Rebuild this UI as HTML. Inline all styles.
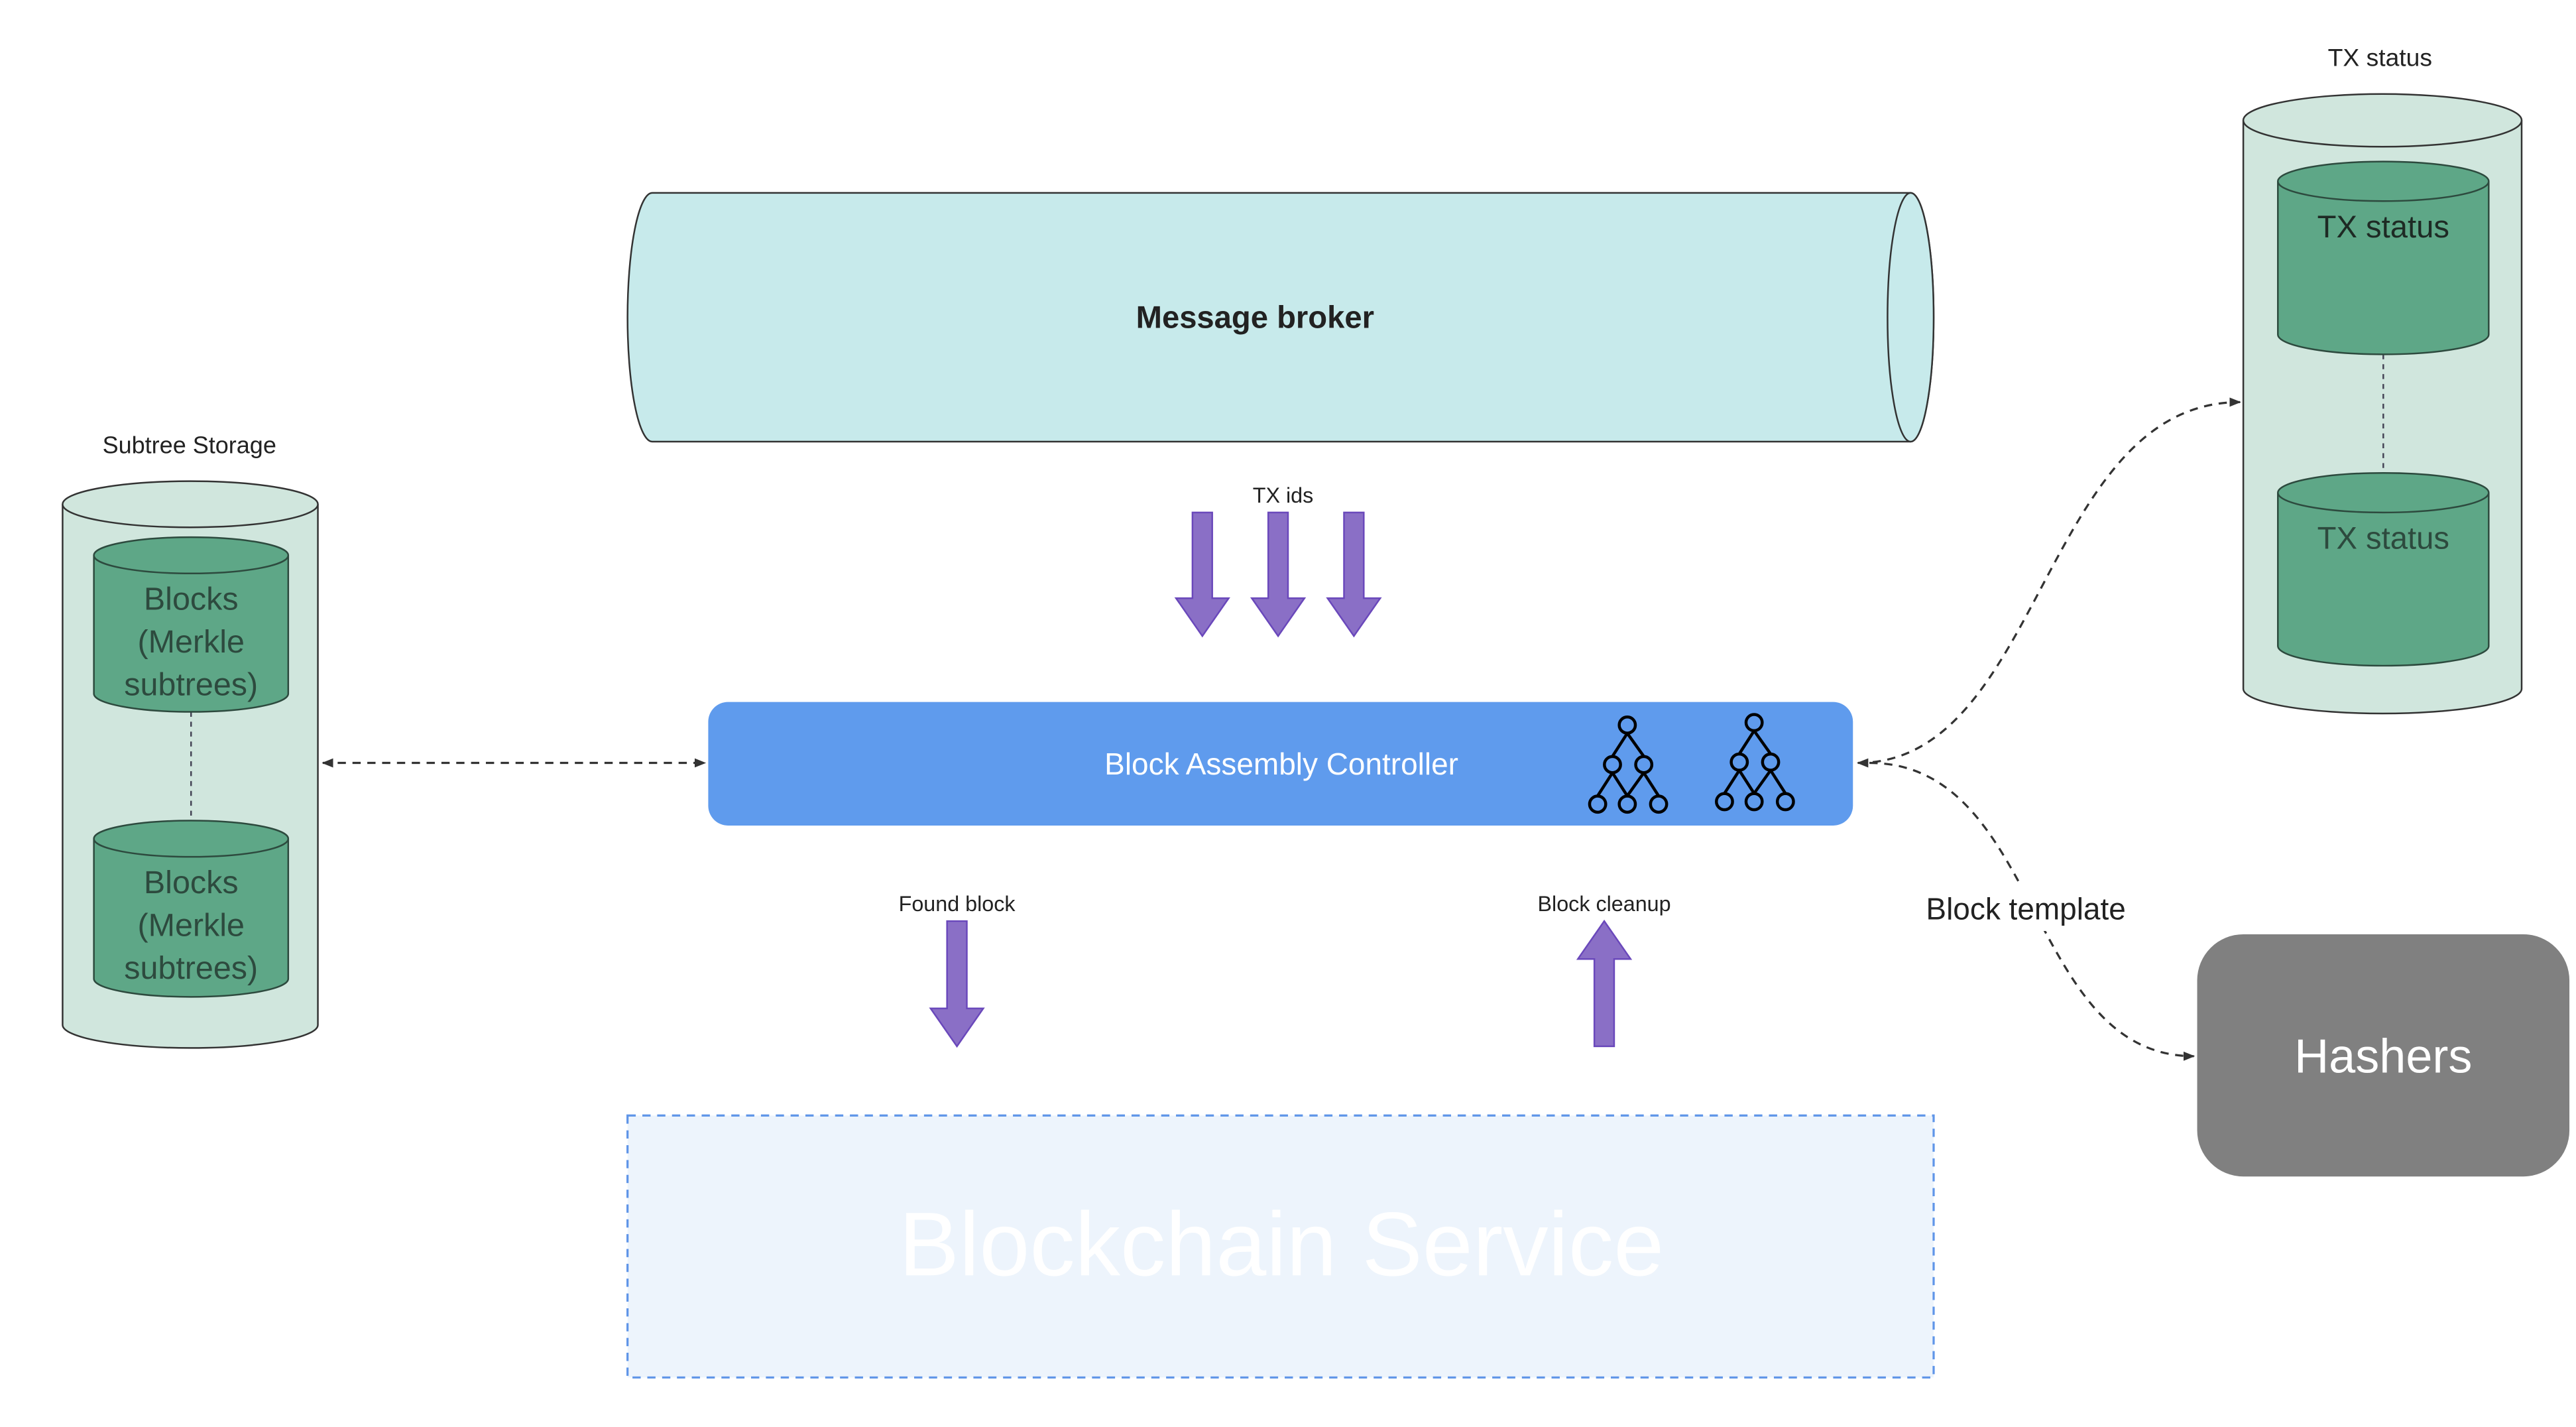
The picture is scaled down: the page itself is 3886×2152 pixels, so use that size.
<!DOCTYPE html>
<html><head><meta charset="utf-8"><style>html,body{margin:0;padding:0;background:#fff;}svg{display:block}</style></head>
<body>
<svg width="3886" height="2152" viewBox="0 0 1564 866" xmlns="http://www.w3.org/2000/svg" font-family="'Liberation Sans', sans-serif">
<defs>
<marker id="ah" viewBox="0 0 10 10" refX="9" refY="5" markerWidth="7" markerHeight="7" orient="auto-start-reverse" markerUnits="userSpaceOnUse"><path d="M0,1 L10,5 L0,9 Z" fill="#333"/></marker>
</defs>
<rect width="1564" height="866" fill="#fff"/>

<path d="M396,117 L1160,117 A14,75.5 0 0 1 1160,268 L396,268 A15,75.5 0 0 1 396,117 Z" fill="#c7eaeb" stroke="#333" stroke-width="1"/>
<ellipse cx="1160" cy="192.5" rx="14" ry="75.5" fill="#c7eaeb" stroke="#333" stroke-width="1"/>
<text x="762" y="199" font-size="19" font-weight="bold" text-anchor="middle" fill="#222">Message broker</text>

<text x="779" y="305" font-size="13" text-anchor="middle" fill="#222">TX ids</text>
<g fill="#8a6fc6" stroke="#6a48bb" stroke-width="1">
<path d="M724,311 h12 v52 h10 l-16,23 l-16,-23 h10 Z"/>
<path d="M770,311 h12 v52 h10 l-16,23 l-16,-23 h10 Z"/>
<path d="M816,311 h12 v52 h10 l-16,23 l-16,-23 h10 Z"/>
</g>

<rect x="430" y="426" width="695" height="75" rx="12" fill="#5f9bed"/>
<text x="778" y="470" font-size="18.5" text-anchor="middle" fill="#fff">Block Assembly Controller</text>
<g fill="none" stroke="#000" stroke-width="1.8">
<g id="tree">
<line x1="988" y1="445" x2="979" y2="459"/><line x1="988" y1="445" x2="998" y2="459"/>
<line x1="979" y1="469" x2="970" y2="483"/><line x1="979" y1="469" x2="988" y2="483"/>
<line x1="998" y1="469" x2="988" y2="483"/><line x1="998" y1="469" x2="1007" y2="483"/>
<circle cx="988" cy="440" r="4.9"/><circle cx="979" cy="464" r="4.9"/><circle cx="998" cy="464" r="4.9"/>
<circle cx="970" cy="488" r="4.9"/><circle cx="988" cy="488" r="4.9"/><circle cx="1007" cy="488" r="4.9"/>
</g>
<use href="#tree" transform="translate(77,-1.5)"/>
</g>

<text x="115" y="275" font-size="14.5" text-anchor="middle" fill="#222">Subtree Storage</text>
<path d="M38,306 L38,622 A77.5,14 0 0 0 193,622 L193,306" fill="#d0e6dd" stroke="#333" stroke-width="1"/>
<ellipse cx="115.5" cy="306" rx="77.5" ry="14" fill="#d0e6dd" stroke="#333" stroke-width="1"/>
<line x1="116" y1="432" x2="116" y2="499" stroke="#445" stroke-width="1" stroke-dasharray="3,3"/>
<g fill="#5ea787" stroke="#2d4a3e" stroke-width="1">
<path d="M57,337 L57,421 A59,11 0 0 0 175,421 L175,337"/><ellipse cx="116" cy="337" rx="59" ry="11"/>
<path d="M57,509 L57,594 A59,11 0 0 0 175,594 L175,509"/><ellipse cx="116" cy="509" rx="59" ry="11"/>
</g>
<g font-size="19.5" text-anchor="middle" fill="#2d4a3e">
<text x="116" y="370">Blocks</text><text x="116" y="396">(Merkle</text><text x="116" y="422">subtrees)</text>
<text x="116" y="542">Blocks</text><text x="116" y="568">(Merkle</text><text x="116" y="594">subtrees)</text>
</g>
<line x1="196" y1="463" x2="428" y2="463" stroke="#333" stroke-width="1.3" stroke-dasharray="5,4" marker-start="url(#ah)" marker-end="url(#ah)"/>

<text x="1445" y="40" font-size="15" text-anchor="middle" fill="#222">TX status</text>
<path d="M1362,73 L1362,418 A84.5,15 0 0 0 1531,418 L1531,73" fill="#d0e6dd" stroke="#333" stroke-width="1"/>
<ellipse cx="1446.5" cy="73" rx="84.5" ry="16" fill="#d0e6dd" stroke="#333" stroke-width="1"/>
<line x1="1447" y1="215" x2="1447" y2="287" stroke="#445" stroke-width="1" stroke-dasharray="3,3"/>
<g fill="#5ea787" stroke="#2d4a3e" stroke-width="1">
<path d="M1383,110 L1383,203 A64,12 0 0 0 1511,203 L1511,110"/><ellipse cx="1447" cy="110" rx="64" ry="12"/>
<path d="M1383,299 L1383,392 A64,12 0 0 0 1511,392 L1511,299"/><ellipse cx="1447" cy="299" rx="64" ry="12"/>
</g>
<text x="1447" y="144" font-size="19" text-anchor="middle" fill="#1e2a24">TX status</text>
<text x="1447" y="333" font-size="19" text-anchor="middle" fill="#2d4a3e">TX status</text>

<path d="M1128,463 C1240,463 1240,244 1360,244" fill="none" stroke="#333" stroke-width="1.3" stroke-dasharray="5,4" marker-start="url(#ah)" marker-end="url(#ah)"/>
<path d="M1135,463 C1240,463 1230,641 1332,641" fill="none" stroke="#333" stroke-width="1.3" stroke-dasharray="5,4" marker-end="url(#ah)"/>
<rect x="1162" y="537" width="136" height="28" fill="#fff"/>
<text x="1230" y="558" font-size="18.5" text-anchor="middle" fill="#222">Block template</text>

<rect x="1334" y="567" width="226" height="147" rx="28" fill="#808080"/>
<text x="1447" y="651" font-size="29" text-anchor="middle" fill="#fff">Hashers</text>

<text x="581" y="553" font-size="13" text-anchor="middle" fill="#222">Found block</text>
<text x="974" y="553" font-size="13" text-anchor="middle" fill="#222">Block cleanup</text>
<g fill="#8a6fc6" stroke="#6a48bb" stroke-width="1">
<path d="M575,559 h12 v53 h10 l-16,23 l-16,-23 h10 Z"/>
<path d="M968,635 h12 v-53 h10 l-16,-23 l-16,23 h10 Z"/>
</g>

<rect x="381" y="677" width="793" height="159" fill="#edf4fc" stroke="#5f95e8" stroke-width="1.3" stroke-dasharray="5,4"/>
<text x="778" y="774" font-size="55" text-anchor="middle" fill="#fff">Blockchain Service</text>
</svg>
</body></html>
